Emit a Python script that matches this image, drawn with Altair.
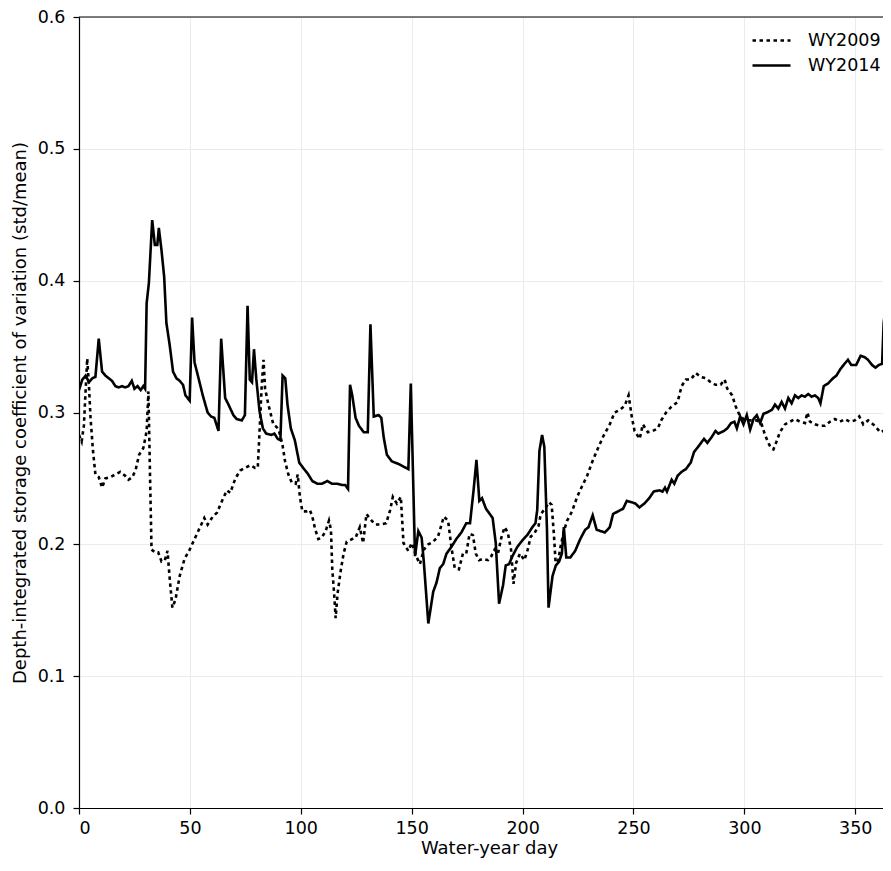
import altair as alt
import pandas as pd

series_names = ["WY2009", "WY2014"]
x_ticks = [0, 50, 100, 150, 200, 250, 300, 350]
y_ticks = [0.0, 0.1, 0.2, 0.3, 0.4, 0.5, 0.6]

day_2009 = [0, 1.2, 2.2, 3.7, 4.5, 5.2, 6.3, 7.4, 8.9, 10.4, 11.9, 14.1, 16.4, 18.6, 20.8, 22.3,
            24.1, 25.6, 27.1, 29, 30.5, 31.3, 32, 32.7, 34.2, 35.7, 37.2, 38.7, 39.9, 40.9, 42.1,
            43.5, 45.4, 47.6, 49.9, 52.1, 54.3, 56.5, 58, 60.3, 62.2, 64.5, 66.7, 68.2, 70.5, 72.7,
            74.9, 77.2, 79.4, 80.6, 81.7, 82.4, 83.2, 83.9, 85.4, 87.6, 89.1, 90.2, 91.7, 92.9,
            94.4, 95.9, 97.7, 98.6, 99.6, 100.7, 102.6, 104.1, 105.2, 106.4, 107.9, 109.4, 111.2,
            112.7, 113.6, 114.2, 115.1, 115.7, 116.6, 118, 119.3, 120.7, 123.2, 124.7, 126.6, 128.1,
            129.6, 131.4, 133.6, 135.9, 138.5, 140.3, 141.5, 143.3, 145.1, 146.3, 148.5, 150, 152.3,
            153.7, 155.5, 157.5, 159.7, 161.9, 164.5, 166.4, 167.9, 169.4, 171.3, 173.1, 174.6,
            176.1, 177.6, 178.9, 180.4, 182.2, 184.4, 185.9, 187.4, 188.9, 190.4, 191.9, 193.3,
            194.8, 195.9, 197.1, 198.8, 200.8, 202.3, 203.7, 205.2, 207.2, 208.2, 210.2, 211.9,
            213.1, 214.1, 214.9, 216.1, 217.1, 218.6, 220.1, 222.3, 224.6, 226.8, 229.1, 231.3,
            233.5, 236.4, 239.3, 241.5, 243.8, 246, 247.8, 249.3, 250.5, 252.8, 254.2, 256.5, 258.7,
            261, 262.5, 264.7, 266.9, 269.9, 271.7, 273.6, 275.8, 278.1, 280.3, 282.6, 284.8, 287,
            289.3, 291.1, 292.3, 294.5, 296, 297.8, 299.6, 302.6, 305.6, 307.8, 309.3, 310.8, 312,
            313.1, 314.5, 316, 318.3, 320.5, 322.8, 325.1, 327.3, 328.4, 329.6, 331.8, 334.1, 336.3,
            338.6, 340.8, 343.1, 345.3, 347.6, 349.8, 351.8, 353.6, 355.8, 358.1, 359.8, 361.3,
            362.5, 364]
cv_2009 = [0.283, 0.278, 0.290, 0.341, 0.320, 0.296, 0.271, 0.253, 0.251, 0.243, 0.250, 0.251,
           0.253, 0.255, 0.252, 0.249, 0.251, 0.257, 0.268, 0.273, 0.286, 0.316, 0.254, 0.196,
           0.194, 0.194, 0.187, 0.188, 0.195, 0.174, 0.152, 0.158, 0.176, 0.189, 0.196, 0.204,
           0.212, 0.220, 0.215, 0.221, 0.224, 0.233, 0.241, 0.239, 0.250, 0.256, 0.258, 0.260,
           0.258, 0.258, 0.296, 0.321, 0.340, 0.318, 0.306, 0.291, 0.289, 0.286, 0.276, 0.263,
           0.253, 0.247, 0.246, 0.253, 0.236, 0.225, 0.225, 0.226, 0.221, 0.212, 0.204, 0.205,
           0.210, 0.218, 0.211, 0.181, 0.161, 0.144, 0.163, 0.180, 0.193, 0.202, 0.204, 0.205,
           0.213, 0.201, 0.223, 0.219, 0.215, 0.215, 0.216, 0.226, 0.236, 0.231, 0.236, 0.201,
           0.195, 0.201, 0.190, 0.185, 0.196, 0.200, 0.202, 0.206, 0.221, 0.218, 0.198, 0.182,
           0.181, 0.193, 0.193, 0.208, 0.207, 0.193, 0.188, 0.189, 0.188, 0.191, 0.196, 0.193,
           0.205, 0.213, 0.209, 0.196, 0.170, 0.186, 0.193, 0.188, 0.196, 0.206, 0.208, 0.214,
           0.223, 0.227, 0.232, 0.230, 0.208, 0.186, 0.188, 0.198, 0.210, 0.218, 0.225, 0.236,
           0.244, 0.252, 0.262, 0.271, 0.282, 0.291, 0.300, 0.302, 0.305, 0.313, 0.296, 0.286,
           0.280, 0.291, 0.285, 0.286, 0.288, 0.294, 0.300, 0.304, 0.308, 0.320, 0.325, 0.325,
           0.330, 0.327, 0.326, 0.323, 0.321, 0.321, 0.325, 0.318, 0.313, 0.305, 0.298, 0.295,
           0.294, 0.294, 0.291, 0.283, 0.277, 0.273, 0.272, 0.278, 0.285, 0.291, 0.293, 0.295,
           0.293, 0.292, 0.300, 0.293, 0.291, 0.290, 0.290, 0.293, 0.295, 0.293, 0.295, 0.293,
           0.294, 0.297, 0.291, 0.294, 0.291, 0.288, 0.285, 0.286, 0.284]

day_2014 = [0, 1.5, 3, 4.5, 6, 7.4, 8.9, 10.4, 11.9, 13.4, 14.9, 16.4, 17.9, 19.4, 20.8, 22.3,
            23.8, 25, 26.4, 27.8, 29, 29.8, 30.5, 31.5, 33, 34.2, 35.3, 36, 37.2, 38.4, 39.4, 40.9,
            42.4, 43.9, 45.4, 46.9, 48, 49.9, 51, 52.1, 53.6, 55.8, 58, 59.5, 61, 62.9, 64.1, 65.9,
            67.4, 69.6, 71.1, 73.4, 74.8, 76, 77, 78, 78.9, 79.9, 81.4, 82.9, 84.4, 86.7, 88.1,
            89.6, 90.8, 91.8, 93, 94, 95.5, 97.3, 99.3, 101.5, 103, 105.2, 107.4, 109.6, 111.9,
            114, 116.3, 118.6, 120, 121.3, 122.2, 123.2, 124.7, 126.2, 128.4, 130.2, 131.4, 132.9,
            135.1, 136.3, 137.4, 138.8, 141, 144, 146.3, 148.5, 149.6, 151.5, 153, 154.5, 155.5,
            157.5, 159.7, 161.2, 162.7, 164.2, 165.7, 167.9, 170.1, 172.4, 174.6, 176.3, 177.9,
            179.2, 180.5, 181.7, 183.5, 186.5, 187.9, 189.4, 191.2, 192.4, 193.9, 195.4, 197.6,
            199.9, 202.1, 204.4, 205.8, 206.6, 207.6, 208.8, 209.8, 211, 211.7, 213.5, 215, 216.5,
            217.7, 218.6, 219.7, 221.5, 223.7, 226, 228.2, 229.7, 231.6, 233.4, 235.3, 237.1,
            239.3, 240.8, 243, 245.3, 247, 249, 250.8, 252.7, 254.9, 257.1, 259.1, 261.6, 263.1,
            264.2, 265.1, 267.2, 268.4, 269.9, 271.7, 273.6, 275.8, 277.3, 279.6, 281.8, 283.3,
            285.1, 287, 288.2, 290.8, 292.3, 294, 295.5, 296.6, 298.1, 299.6, 301.1, 302.6, 304.1,
            305.6, 307.1, 308.6, 310.1, 312.4, 313.8, 315.3, 316.8, 318.3, 319.8, 321.3, 322.8,
            324.3, 325.8, 327.3, 328.8, 330.3, 331.8, 333.3, 334.3, 335.8, 337.7, 340, 341.5,
            343.3, 345.2, 346.7, 348.2, 350.4, 352.4, 354.2, 355.7, 357.6, 359.1, 360.6, 362.1,
            362.8, 364]
cv_2014 = [0.317, 0.325, 0.328, 0.323, 0.326, 0.327, 0.356, 0.331, 0.328, 0.326, 0.324, 0.320,
           0.319, 0.320, 0.319, 0.320, 0.324, 0.318, 0.320, 0.317, 0.320, 0.318, 0.383, 0.398,
           0.446, 0.427, 0.427, 0.440, 0.423, 0.403, 0.368, 0.351, 0.331, 0.326, 0.324, 0.321,
           0.313, 0.309, 0.372, 0.338, 0.328, 0.313, 0.300, 0.297, 0.296, 0.286, 0.356, 0.311,
           0.306, 0.298, 0.295, 0.294, 0.298, 0.381, 0.325, 0.323, 0.348, 0.326, 0.301, 0.288,
           0.284, 0.283, 0.284, 0.280, 0.279, 0.328, 0.326, 0.306, 0.288, 0.279, 0.262, 0.257,
           0.254, 0.248, 0.246, 0.246, 0.248, 0.246, 0.246, 0.245, 0.245, 0.242, 0.321, 0.313,
           0.296, 0.290, 0.285, 0.285, 0.367, 0.297, 0.298, 0.296, 0.281, 0.268, 0.263, 0.261,
           0.259, 0.257, 0.322, 0.191, 0.210, 0.205, 0.186, 0.140, 0.164, 0.171, 0.182, 0.185,
           0.193, 0.198, 0.204, 0.209, 0.216, 0.216, 0.241, 0.264, 0.233, 0.235, 0.227, 0.220,
           0.201, 0.155, 0.169, 0.184, 0.185, 0.191, 0.198, 0.203, 0.207, 0.213, 0.216, 0.226,
           0.271, 0.283, 0.274, 0.211, 0.152, 0.176, 0.184, 0.187, 0.193, 0.213, 0.190, 0.190,
           0.195, 0.204, 0.211, 0.213, 0.222, 0.211, 0.210, 0.209, 0.213, 0.223, 0.225, 0.227,
           0.233, 0.232, 0.231, 0.228, 0.231, 0.235, 0.240, 0.241, 0.240, 0.243, 0.240, 0.249,
           0.246, 0.252, 0.255, 0.257, 0.262, 0.270, 0.275, 0.280, 0.277, 0.281, 0.286, 0.284,
           0.286, 0.288, 0.292, 0.293, 0.288, 0.297, 0.291, 0.298, 0.287, 0.295, 0.298, 0.292,
           0.299, 0.300, 0.302, 0.306, 0.303, 0.308, 0.303, 0.311, 0.307, 0.313, 0.311, 0.313,
           0.312, 0.314, 0.312, 0.313, 0.311, 0.307, 0.320, 0.322, 0.326, 0.328, 0.333, 0.337,
           0.340, 0.336, 0.336, 0.343, 0.342, 0.340, 0.336, 0.334, 0.336, 0.337, 0.368, 0.385]

df = pd.concat([
    pd.DataFrame({"day": day_2009, "cv": cv_2009, "series": series_names[0]}),
    pd.DataFrame({"day": day_2014, "cv": cv_2014, "series": series_names[1]}),
], ignore_index=True)

W, H = 804, 791
FONT = "DejaVu Sans"

lines = alt.Chart(df).mark_line(color="black", strokeWidth=2.6, clip=True).encode(
    x=alt.X("day:Q",
            scale=alt.Scale(domain=[0, 362.5], nice=False, zero=False),
            axis=alt.Axis(values=x_ticks, title="Water-year day", format="d",
                          labelBaseline="alphabetic", labelPadding=19,
                          titleBaseline="alphabetic", titleY=45, titleX=410)),
    y=alt.Y("cv:Q",
            scale=alt.Scale(domain=[0, 0.6], nice=False),
            axis=alt.Axis(values=y_ticks, format=".1f", labelPadding=8,
                          title="Depth-integrated storage coefficient of variation (std/mean)",
                          titleBaseline="alphabetic", titleX=-54)),
    strokeDash=alt.StrokeDash(
        "series:N",
        scale=alt.Scale(domain=series_names, range=[[3.5, 3.5], [1, 0]]),
        legend=alt.Legend(title=None, orient="none", legendX=672, legendY=15,
                          symbolType="stroke", symbolSize=1444, symbolStrokeWidth=2.6,
                          symbolStrokeColor="black", labelOffset=16, clipHeight=17,
                          rowPadding=7, padding=0, labelFont=FONT, labelFontSize=17.5,
                          labelColor="black"),
    ),
)

top_spine = alt.Chart(pd.DataFrame({"k": [0]})).mark_rule(color="black", strokeWidth=1.2).encode(
    y=alt.value(0), x=alt.value(0), x2=alt.value(W)
)

chart = alt.layer(lines, top_spine).properties(
    width=W, height=H,
    padding={"left": 71, "top": 9, "right": 0, "bottom": 50},
    autosize=alt.AutoSizeParams(type="none"),
).configure_view(stroke=None).configure_axis(
    domainColor="black", domainWidth=1.2, tickColor="black", tickWidth=1.2, tickSize=6,
    labelFont=FONT, labelFontSize=17.5, labelColor="black",
    titleFont=FONT, titleFontSize=18, titleFontWeight="normal", titleColor="black",
    gridColor="#ebebeb", gridWidth=1,
)

chart.save("out.html", embed_options={"renderer": "svg", "actions": False})
